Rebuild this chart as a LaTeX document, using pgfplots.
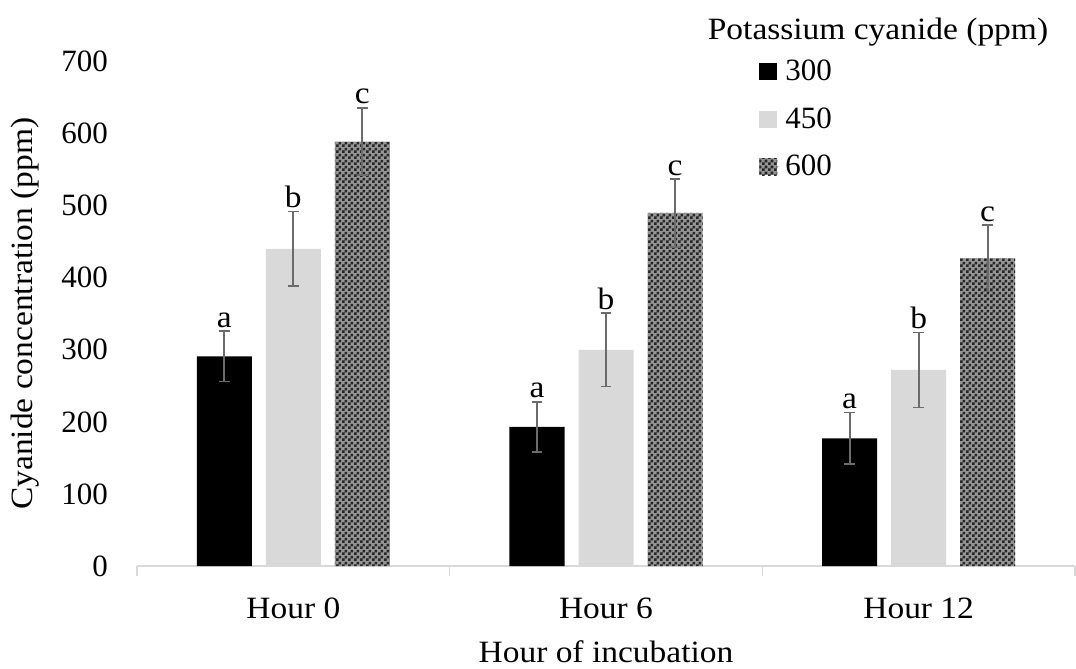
\documentclass[border=0pt]{standalone}
\usepackage{fontspec}
\setmainfont{Liberation Serif}
\newfontfamily\lab[FakeStretch=1.08]{Liberation Serif}
\usepackage{pgfplots}
\pgfplotsset{compat=1.18}
\usetikzlibrary{patterns}
\pgfdeclarepatternformonly{finecheck}{\pgfpointorigin}{\pgfpoint{3pt}{3pt}}{\pgfpoint{3pt}{3pt}}{%
  \pgfpathrectangle{\pgfpointorigin}{\pgfpoint{1.5pt}{1.5pt}}%
  \pgfpathrectangle{\pgfpoint{1.5pt}{1.5pt}}{\pgfpoint{1.5pt}{1.5pt}}%
  \pgfusepath{fill}}
\definecolor{lightbar}{HTML}{D9D9D9}
\definecolor{errc}{HTML}{6B6B6B}
\definecolor{axc}{HTML}{D9D9D9}
\pgfplotsset{
  myerr/.style={error bars/.cd, y dir=both, y explicit, error mark=-,
    error bar style={line width=0.9pt, draw=errc, solid},
    error mark options={rotate=90, line width=0.9pt, draw=errc, mark size=2.7pt}},
  letters/.style={draw=none, fill=none, forget plot, nodes near coords, point meta=explicit symbolic,
    every node near coord/.append style={font=\lab\fontsize{15.5}{18}\selectfont, anchor=south, inner sep=1.6pt, text=black}},
}
\begin{document}
\begin{tikzpicture}
\begin{axis}[
  at={(0pt,0pt)}, anchor=south west,
  width=469pt, height=252.25pt, scale only axis,
  ybar, bar width=27.5pt,
  xmin=-0.5, xmax=2.5, ymin=0, ymax=700,
  axis x line=bottom, axis y line=left,
  x axis line style={draw=axc, line width=0.75pt, -},
  y axis line style={draw=none},
  xtick={0,1,2}, xticklabels={Hour 0, Hour 6, Hour 12},
  minor xtick={-0.5,0.5,1.5,2.5},
  major tick length=0pt, minor tick length=5pt, tick align=outside,
  minor x tick style={draw=axc, line width=0.75pt},
  ytick={0,100,...,700},
  ytick style={draw=none},
  tick label style={font=\fontsize{15.5}{18}\selectfont},
  /pgf/number format/assume math mode=true,
  xticklabel style={yshift=-12.5pt, font=\lab\fontsize{15.5}{18}\selectfont},
  yticklabel style={xshift=-11pt},
  ylabel={Cyanide concentration (ppm)},
  xlabel={Hour of incubation},
  label style={font=\lab\fontsize{15.5}{18}\selectfont},
  ylabel style={at={(axis description cs:-0.1194,0.5)}, anchor=center},
  xlabel style={at={(axis description cs:0.5,-0.1705)}, anchor=center},
  title={Potassium cyanide (ppm)},
  title style={at={(axis description cs:0.79,1.035)}, anchor=center, font=\lab\fontsize{15.5}{18}\selectfont},
  legend style={at={(axis description cs:0.6631,1.010)}, anchor=north west, draw=none, fill=none,
    inner sep=0pt, row sep=9pt, font=\fontsize{15.5}{18}\selectfont,
    nodes={inner sep=1.5pt}},
  legend cell align=left,
  legend image code/.code={\path[#1, draw=none] (0pt,-4.25pt) rectangle (9pt,4.25pt); \path[draw=none, fill=none] (0pt,0pt) -- (11.5pt,0pt);},
]
\addplot[fill=black, draw=none, bar shift=-34.5pt, forget plot, myerr]
  coordinates {(0,291) +- (0,35) (1,193) +- (0,35) (2,177) +- (0,36)};
\addplot[fill=lightbar, draw=none, bar shift=0pt, forget plot, myerr]
  coordinates {(0,440) +- (0,52) (1,300) +- (0,51) (2,272) +- (0,52)};
\addplot[fill=black!42, draw=none, postaction={pattern=finecheck, pattern color=black!85}, bar shift=34.5pt, forget plot, myerr]
  coordinates {(0,589) +- (0,47) (1,490) +- (0,47) (2,427) +- (0,46)};
\addlegendimage{fill=black, draw=none}
\addlegendentry{300}
\addlegendimage{fill=lightbar, draw=none}
\addlegendentry{450}
\addlegendimage{fill=black!42, draw=none, postaction={pattern=finecheck, pattern color=black!85}}
\addlegendentry{600}
% significance letters at the top of each error bar
\addplot[letters, bar shift=-34.5pt] coordinates {(0,326)[a] (1,228)[a] (2,213)[a]};
\addplot[letters, bar shift=0pt] coordinates {(0,492)[b] (1,351)[b] (2,324)[b]};
\addplot[letters, bar shift=34.5pt] coordinates {(0,636)[c] (1,537)[c] (2,473)[c]};
\end{axis}
\pgfresetboundingbox
\path[use as bounding box] (-68.5pt,-51.5pt) rectangle (469.5pt,283pt);
\end{tikzpicture}
\end{document}
